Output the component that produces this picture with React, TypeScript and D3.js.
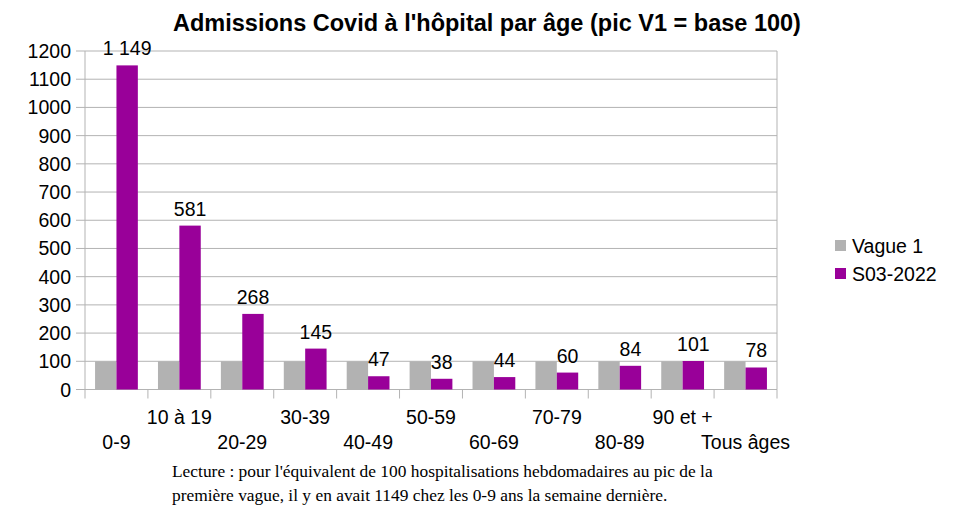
import React from "react";
import * as d3 from "d3";

const categories = ["0-9", "10 à 19", "20-29", "30-39", "40-49", "50-59", "60-69", "70-79", "80-89", "90 et +", "Tous âges"];
const vague1 = [100, 100, 100, 100, 100, 100, 100, 100, 100, 100, 100];
const s03 = [1149, 581, 268, 145, 47, 38, 44, 60, 84, 101, 78];
const valueLabels = ["1 149", "581", "268", "145", "47", "38", "44", "60", "84", "101", "78"];
const yTicks = [0, 100, 200, 300, 400, 500, 600, 700, 800, 900, 1000, 1100, 1200];
const seriesNames = ["Vague 1", "S03-2022"];
const colors = ["#b2b2b2", "#990099"];

export default function App() {
  const W = 956, H = 517;
  const left = 85, right = 777, top = 51, bottom = 389.5;
  const x = d3.scaleBand<string>().domain(categories).range([left, right]).paddingInner(0).paddingOuter(0);
  const y = d3.scaleLinear().domain([0, 1200]).range([bottom, top]);
  const bw = x.bandwidth();
  const barW = bw * 0.34;
  const off = (bw - 2 * barW) / 2;
  const font = "'Liberation Sans', Arial, sans-serif";
  const fs = 19.5;
  return (
    <svg width={W} height={H} style={{ position: "absolute", left: 0, top: 0, background: "#fff" }} fontFamily={font}>
      <text x={487} y={31} textAnchor="middle" fontSize={23.5} fontWeight="bold" fill="#000">
        Admissions Covid à l'hôpital par âge (pic V1 = base 100)
      </text>
      {yTicks.map((t) => (
        <g key={t}>
          <line x1={76} x2={right} y1={y(t)} y2={y(t)} stroke="#b3b3b3" strokeWidth={1} />
          <text x={71} y={y(t) + 7} textAnchor="end" fontSize={fs} fill="#000">{t}</text>
        </g>
      ))}
      <line x1={left} x2={left} y1={top} y2={bottom + 9} stroke="#b3b3b3" />
      <line x1={right} x2={right} y1={top} y2={bottom} stroke="#b3b3b3" />
      {categories.map((c, i) => (
        <line key={"tk" + i} x1={(x(c) as number) + bw} x2={(x(c) as number) + bw} y1={bottom} y2={bottom + 9} stroke="#b3b3b3" />
      ))}
      {categories.map((c, i) => {
        const x0 = (x(c) as number) + off;
        return (
          <g key={c}>
            <rect x={x0} y={y(vague1[i])} width={barW} height={bottom - y(vague1[i])} fill={colors[0]} />
            <rect x={x0 + barW} y={y(s03[i])} width={barW} height={bottom - y(s03[i])} fill={colors[1]} />
            <text x={x0 + barW * 1.5} y={y(s03[i]) - 10} textAnchor="middle" fontSize={fs} fill="#000">{valueLabels[i]}</text>
            <text x={(x(c) as number) + bw / 2} y={i % 2 === 0 ? 449 : 424} textAnchor="middle" fontSize={fs} fill="#000">{c}</text>
          </g>
        );
      })}
      {seriesNames.map((s, i) => (
        <g key={s}>
          <rect x={835} y={240 + i * 28} width={11} height={11} fill={colors[i]} />
          <text x={852} y={252.5 + i * 28} fontSize={fs} fill="#000">{s}</text>
        </g>
      ))}
      <text x={172} y={477} fontSize={17.4} fontFamily="'Liberation Serif', 'Times New Roman', serif" fill="#000">
        Lecture : pour l'équivalent de 100 hospitalisations hebdomadaires au pic de la
      </text>
      <text x={172} y={501} fontSize={17.4} fontFamily="'Liberation Serif', 'Times New Roman', serif" fill="#000">
        première vague, il y en avait 1149 chez les 0-9 ans la semaine dernière.
      </text>
    </svg>
  );
}
